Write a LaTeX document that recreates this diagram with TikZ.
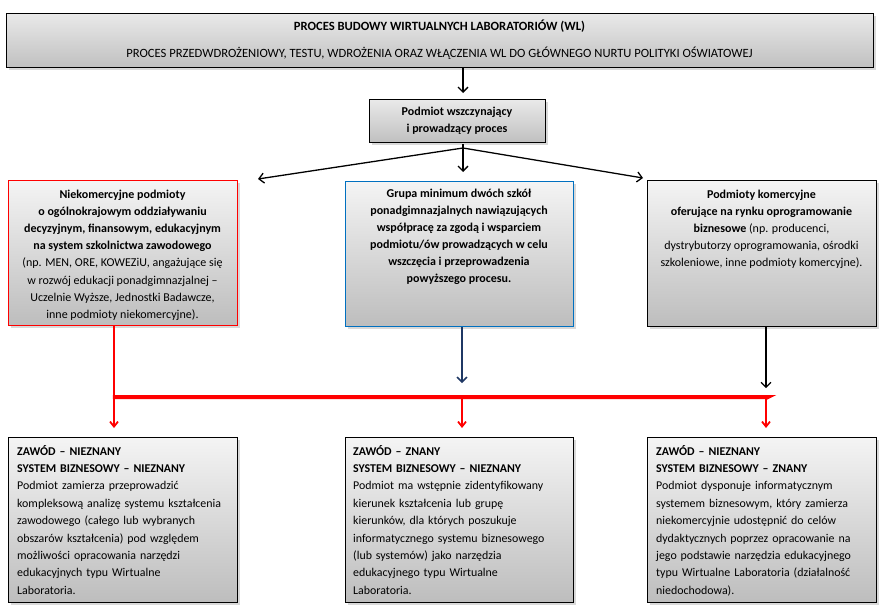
\documentclass[tikz,border=0pt]{standalone}
\usepackage{fontspec}
\setmainfont{Carlito}
\usetikzlibrary{arrows.meta,shadows}
\definecolor{navy}{HTML}{1F3864}
\definecolor{boxblue}{HTML}{0070C0}
\definecolor{gT}{HTML}{F4F4F4}
\definecolor{gB}{HTML}{BDBDBD}
\definecolor{hT}{HTML}{E9E9E9}
\definecolor{hB}{HTML}{C0C0C0}
\begin{document}
\begin{tikzpicture}[x=1pt,y=-1pt,
  box/.style={draw=black, line width=1.2pt, top color=gT, bottom color=gB,
    drop shadow={shadow xshift=2pt,shadow yshift=-2pt,opacity=0.3},
    anchor=north west, inner sep=0pt},
  hbox/.style={box, top color=hT, bottom color=hB},
  ttop/.style={inner sep=0pt, anchor=north, align=center, font=\fontsize{12}{17.2}\selectfont},
  tbot/.style={inner sep=0pt, anchor=north west, align=left, text width=226pt, font=\fontsize{11.9}{17.4}\selectfont},
  arr/.style={-{Straight Barb[length=5pt,width=10pt]}, line width=1.3pt},
  rarr/.style={-{Straight Barb[length=5pt,width=8pt]}, line width=1.8pt, draw=red},
]
\useasboundingbox (0,0) rectangle (883,610);

% top box
\node[hbox, minimum width=867pt, minimum height=54pt] (top) at (6,13) {};
\node[inner sep=0pt, anchor=base, font=\fontsize{12.6}{13}\selectfont\bfseries] (topA) at (439.5,31) {PROCES BUDOWY WIRTUALNYCH LABORATORIÓW (WL)};
\node[inner sep=0pt, anchor=base, font=\fontsize{12.6}{13}\selectfont] (topB) at (439.5,58) {PROCES PRZEDWDROŻENIOWY, TESTU, WDROŻENIA ORAZ WŁĄCZENIA WL DO GŁÓWNEGO NURTU POLITYKI OŚWIATOWEJ};

% initiator
\node[hbox, minimum width=176pt, minimum height=43pt] (init) at (369,99) {};
\node[ttop, font=\fontsize{12}{17}\selectfont\bfseries] (initT) at (457,103.8) {\strut Podmiot wszczynający\\ i prowadzący proces};

% middle row
\node[box, draw=red, minimum width=229pt, minimum height=145pt] (nk) at (8,180) {};
\node[box, draw=boxblue, minimum width=228pt, minimum height=145pt] (gr) at (345,181) {};
\node[box, minimum width=229pt, minimum height=146pt] (km) at (647,180) {};

\node[ttop] (nkT) at (122.5,185.8) {\strut\textbf{Niekomercyjne podmioty}\\
\textbf{o ogólnokrajowym oddziaływaniu}\\
\textbf{decyzyjnym, finansowym, edukacyjnym}\\
\textbf{na system szkolnictwa zawodowego}\\
(np. MEN, ORE, KOWEZiU, angażujące się\\
w rozwój edukacji ponadgimnazjalnej –\\
Uczelnie Wyższe, Jednostki Badawcze,\\
inne podmioty niekomercyjne).};

\node[ttop, font=\fontsize{12}{17}\selectfont\bfseries] (grT) at (459,185.8) {\strut Grupa minimum dwóch szkół\\
ponadgimnazjalnych nawiązujących\\
współpracę za zgodą i wsparciem\\
podmiotu/ów prowadzących w celu\\
wszczęcia i przeprowadzenia\\
powyższego procesu.};

\node[ttop] (kmT) at (761.5,185.8) {\strut\textbf{Podmioty komercyjne}\\
\textbf{oferujące na rynku oprogramowanie}\\
\textbf{biznesowe} (np. producenci,\\
dystrybutorzy oprogramowania, ośrodki\\
szkoleniowe, inne podmioty komercyjne).};

% bottom row
\node[box, minimum width=229pt, minimum height=165pt] (b1) at (8,437) {};
\node[box, minimum width=228pt, minimum height=165pt] (b2) at (345,437) {};
\node[box, minimum width=229pt, minimum height=165pt] (b3) at (647,437) {};

\node[tbot] (b1T) at (17,442.8) {\strut\textbf{ZAWÓD – NIEZNANY}\\
\textbf{SYSTEM BIZNESOWY – NIEZNANY}\\
Podmiot zamierza przeprowadzić\\
kompleksową analizę systemu kształcenia\\
zawodowego (całego lub wybranych\\
obszarów kształcenia) pod względem\\
możliwości opracowania narzędzi\\
edukacyjnych typu Wirtualne\\
Laboratoria.};

\node[tbot] (b2T) at (353,442.8) {\strut\textbf{ZAWÓD – ZNANY}\\
\textbf{SYSTEM BIZNESOWY – NIEZNANY}\\
Podmiot ma wstępnie zidentyfikowany\\
kierunek kształcenia lub grupę\\
kierunków, dla których poszukuje\\
informatycznego systemu biznesowego\\
(lub systemów) jako narzędzia\\
edukacyjnego typu Wirtualne\\
Laboratoria.};

\node[tbot] (b3T) at (656,442.8) {\strut\textbf{ZAWÓD – NIEZNANY}\\
\textbf{SYSTEM BIZNESOWY – ZNANY}\\
Podmiot dysponuje informatycznym\\
systemem biznesowym, który zamierza\\
niekomercyjnie udostępnić do celów\\
dydaktycznych poprzez opracowanie na\\
jego podstawie narzędzia edukacyjnego\\
typu Wirtualne Laboratoria (działalność\\
niedochodowa).};

% connectors top
\coordinate (apex) at (463,148);
\coordinate (tipL) at (258,179);
\coordinate (tipR) at (643,178);
\draw[arr] (top.south -| apex) -- ([yshift=6pt]init.north -| apex);
\draw[line width=1.3pt] ([yshift=-1pt]init.south -| apex) -- (apex);
\draw[arr] (apex) -- (tipL);
\draw[arr] (apex) -- (tipR);
\draw[arr] (apex) -- ([yshift=9pt]gr.north -| apex);

% connectors to bottom
\coordinate (hL) at (114,397);
\coordinate (hR) at (766,397);
\coordinate (mX) at (462,397);
\draw[line width=2.5pt, red] (nk.south -| hL) -- (hL);
\draw[line width=4pt, red] ([xshift=-1.2pt]hL) -- ([xshift=2pt]hR) -- ([yshift=-1pt]hR |- hL);
\draw[rarr] (hL) -- ([yshift=9pt]b1.north -| hL);
\draw[rarr] (mX) -- ([yshift=9pt]b2.north -| mX);
\draw[rarr] ([yshift=-1pt]hR) -- ([yshift=9pt]b3.north -| hR);
\draw[arr, navy, line width=1.6pt] (gr.south -| mX) -- ([yshift=-56pt]gr.south -| mX);
\draw[arr] (km.south -| hR) -- ([yshift=-61pt]km.south -| hR);
\end{tikzpicture}
\end{document}
